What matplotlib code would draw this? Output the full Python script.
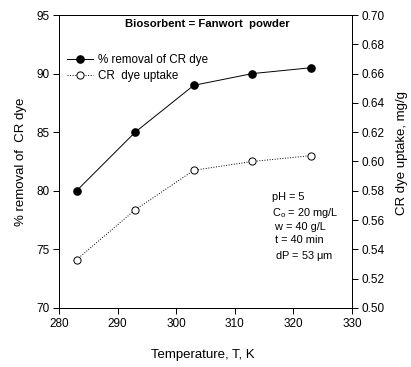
import matplotlib
matplotlib.use("Agg")
import matplotlib.pyplot as plt

plt.rcParams['font.family'] = ['Liberation Sans', 'DejaVu Sans']

temperature = [283, 293, 303, 313, 323]
removal = [80.0, 85.0, 89.0, 90.0, 90.5]
uptake = [0.533, 0.567, 0.594, 0.600, 0.604]

xticks = [280, 290, 300, 310, 320, 330]
yticks_left = [70, 75, 80, 85, 90, 95]
yticks_right = [0.50, 0.52, 0.54, 0.56, 0.58, 0.60, 0.62, 0.64, 0.66, 0.68, 0.70]

W, H = 411, 367
fig = plt.figure(figsize=(W/100, H/100), dpi=100)
ax = fig.add_axes([59/W, 1-308/H, (352-59)/W, (308-15)/H])
ax2 = ax.twinx()

l1, = ax.plot(temperature, removal, '-', color='black', lw=0.7, marker='o',
              ms=5.2, mfc='black', mec='black', label='% removal of CR dye')
l2, = ax2.plot(temperature, uptake, ':', color='black', lw=0.7, marker='o',
               ms=5.2, mfc='white', mec='black', mew=0.7, label='CR  dye uptake')

ax.set_xlim(280, 330)
ax.set_ylim(70, 95)
ax2.set_ylim(0.50, 0.70)
ax.set_xticks(xticks)
ax.set_yticks(yticks_left)
ax2.set_yticks(yticks_right)
ax2.set_yticklabels([f"{v:.2f}" for v in yticks_right])

for a in (ax, ax2):
    a.tick_params(direction='out', length=4, width=0.7, labelsize=8.5, pad=3)
    for s in a.spines.values():
        s.set_linewidth(0.7)

ax.set_xlabel('Temperature, T, K', fontsize=9.5)
ax.xaxis.set_label_coords(0.49, -(349-308)/293)
ax.set_ylabel('% removal of  CR dye', fontsize=9.5)
ax.yaxis.set_label_coords(-(59-27)/293, 0.5)
ax2.set_ylabel('CR dye uptake, mg/g', fontsize=9.5)
ax2.yaxis.set_label_coords(1 + (396-352)/293, 0.53)

ax.text(0.505, 1-(24-15)/293, 'Biosorbent = Fanwort  powder', transform=ax.transAxes,
        ha='center', va='center', fontsize=8.2, fontweight='bold')

ax.legend(handles=[l1, l2], loc='upper left',
          bbox_to_anchor=(0.0, 1-(46-15)/293), borderpad=0.0,
          frameon=False, fontsize=8.4, handlelength=2.2, handletextpad=0.5,
          labelspacing=0.35, borderaxespad=0.68)

ann = ('pH = 5\n$\\mathregular{C_o}$ = 20 mg/L\n w = 40 g/L\n t = 40 min\n dP = 53 $\\mathregular{\\mu}$m')
ax.text((272-59)/293, 1-(192-15)/293, ann, transform=ax.transAxes, ha='left', va='top',
        fontsize=7.9, linespacing=1.36)

fig.savefig('out.png', dpi=100)
